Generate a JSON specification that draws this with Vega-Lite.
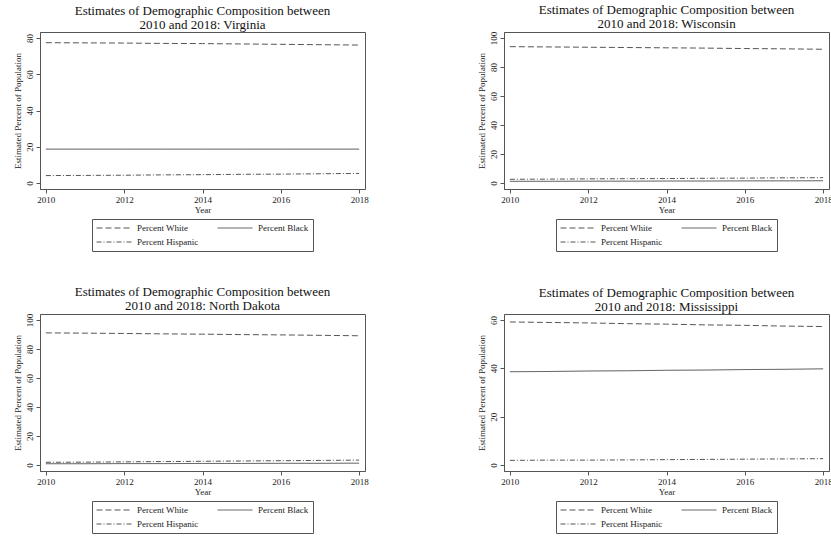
{
  "$schema": "https://vega.github.io/schema/vega-lite/v6.json",
  "padding": {"left": 12, "top": 3, "right": 0, "bottom": 3},
  "background": "white",
  "datasets": {
    "demo": [
      {"state": "Virginia", "year": 2010, "group": "Percent White", "pct": 77.4},
      {"state": "Virginia", "year": 2011, "group": "Percent White", "pct": 77.3},
      {"state": "Virginia", "year": 2012, "group": "Percent White", "pct": 77.2},
      {"state": "Virginia", "year": 2013, "group": "Percent White", "pct": 77.0},
      {"state": "Virginia", "year": 2014, "group": "Percent White", "pct": 76.9},
      {"state": "Virginia", "year": 2015, "group": "Percent White", "pct": 76.7},
      {"state": "Virginia", "year": 2016, "group": "Percent White", "pct": 76.5},
      {"state": "Virginia", "year": 2017, "group": "Percent White", "pct": 76.3},
      {"state": "Virginia", "year": 2018, "group": "Percent White", "pct": 76.1},
      {"state": "Virginia", "year": 2010, "group": "Percent Black", "pct": 18.7},
      {"state": "Virginia", "year": 2011, "group": "Percent Black", "pct": 18.7},
      {"state": "Virginia", "year": 2012, "group": "Percent Black", "pct": 18.7},
      {"state": "Virginia", "year": 2013, "group": "Percent Black", "pct": 18.7},
      {"state": "Virginia", "year": 2014, "group": "Percent Black", "pct": 18.7},
      {"state": "Virginia", "year": 2015, "group": "Percent Black", "pct": 18.7},
      {"state": "Virginia", "year": 2016, "group": "Percent Black", "pct": 18.7},
      {"state": "Virginia", "year": 2017, "group": "Percent Black", "pct": 18.7},
      {"state": "Virginia", "year": 2018, "group": "Percent Black", "pct": 18.7},
      {"state": "Virginia", "year": 2010, "group": "Percent Hispanic", "pct": 4.1},
      {"state": "Virginia", "year": 2011, "group": "Percent Hispanic", "pct": 4.2},
      {"state": "Virginia", "year": 2012, "group": "Percent Hispanic", "pct": 4.3},
      {"state": "Virginia", "year": 2013, "group": "Percent Hispanic", "pct": 4.5},
      {"state": "Virginia", "year": 2014, "group": "Percent Hispanic", "pct": 4.6},
      {"state": "Virginia", "year": 2015, "group": "Percent Hispanic", "pct": 4.8},
      {"state": "Virginia", "year": 2016, "group": "Percent Hispanic", "pct": 4.9},
      {"state": "Virginia", "year": 2017, "group": "Percent Hispanic", "pct": 5.1},
      {"state": "Virginia", "year": 2018, "group": "Percent Hispanic", "pct": 5.3},

      {"state": "Wisconsin", "year": 2010, "group": "Percent White", "pct": 94.0},
      {"state": "Wisconsin", "year": 2011, "group": "Percent White", "pct": 93.8},
      {"state": "Wisconsin", "year": 2012, "group": "Percent White", "pct": 93.6},
      {"state": "Wisconsin", "year": 2013, "group": "Percent White", "pct": 93.4},
      {"state": "Wisconsin", "year": 2014, "group": "Percent White", "pct": 93.2},
      {"state": "Wisconsin", "year": 2015, "group": "Percent White", "pct": 93.0},
      {"state": "Wisconsin", "year": 2016, "group": "Percent White", "pct": 92.7},
      {"state": "Wisconsin", "year": 2017, "group": "Percent White", "pct": 92.5},
      {"state": "Wisconsin", "year": 2018, "group": "Percent White", "pct": 92.2},
      {"state": "Wisconsin", "year": 2010, "group": "Percent Black", "pct": 1.2},
      {"state": "Wisconsin", "year": 2011, "group": "Percent Black", "pct": 1.2},
      {"state": "Wisconsin", "year": 2012, "group": "Percent Black", "pct": 1.3},
      {"state": "Wisconsin", "year": 2013, "group": "Percent Black", "pct": 1.3},
      {"state": "Wisconsin", "year": 2014, "group": "Percent Black", "pct": 1.4},
      {"state": "Wisconsin", "year": 2015, "group": "Percent Black", "pct": 1.4},
      {"state": "Wisconsin", "year": 2016, "group": "Percent Black", "pct": 1.5},
      {"state": "Wisconsin", "year": 2017, "group": "Percent Black", "pct": 1.5},
      {"state": "Wisconsin", "year": 2018, "group": "Percent Black", "pct": 1.6},
      {"state": "Wisconsin", "year": 2010, "group": "Percent Hispanic", "pct": 2.6},
      {"state": "Wisconsin", "year": 2011, "group": "Percent Hispanic", "pct": 2.7},
      {"state": "Wisconsin", "year": 2012, "group": "Percent Hispanic", "pct": 2.9},
      {"state": "Wisconsin", "year": 2013, "group": "Percent Hispanic", "pct": 3.0},
      {"state": "Wisconsin", "year": 2014, "group": "Percent Hispanic", "pct": 3.1},
      {"state": "Wisconsin", "year": 2015, "group": "Percent Hispanic", "pct": 3.3},
      {"state": "Wisconsin", "year": 2016, "group": "Percent Hispanic", "pct": 3.4},
      {"state": "Wisconsin", "year": 2017, "group": "Percent Hispanic", "pct": 3.6},
      {"state": "Wisconsin", "year": 2018, "group": "Percent Hispanic", "pct": 3.7},

      {"state": "North Dakota", "year": 2010, "group": "Percent White", "pct": 91.1},
      {"state": "North Dakota", "year": 2011, "group": "Percent White", "pct": 90.9},
      {"state": "North Dakota", "year": 2012, "group": "Percent White", "pct": 90.7},
      {"state": "North Dakota", "year": 2013, "group": "Percent White", "pct": 90.4},
      {"state": "North Dakota", "year": 2014, "group": "Percent White", "pct": 90.2},
      {"state": "North Dakota", "year": 2015, "group": "Percent White", "pct": 89.9},
      {"state": "North Dakota", "year": 2016, "group": "Percent White", "pct": 89.7},
      {"state": "North Dakota", "year": 2017, "group": "Percent White", "pct": 89.4},
      {"state": "North Dakota", "year": 2018, "group": "Percent White", "pct": 89.1},
      {"state": "North Dakota", "year": 2010, "group": "Percent Black", "pct": 0.9},
      {"state": "North Dakota", "year": 2011, "group": "Percent Black", "pct": 0.9},
      {"state": "North Dakota", "year": 2012, "group": "Percent Black", "pct": 1.0},
      {"state": "North Dakota", "year": 2013, "group": "Percent Black", "pct": 1.0},
      {"state": "North Dakota", "year": 2014, "group": "Percent Black", "pct": 1.1},
      {"state": "North Dakota", "year": 2015, "group": "Percent Black", "pct": 1.1},
      {"state": "North Dakota", "year": 2016, "group": "Percent Black", "pct": 1.2},
      {"state": "North Dakota", "year": 2017, "group": "Percent Black", "pct": 1.2},
      {"state": "North Dakota", "year": 2018, "group": "Percent Black", "pct": 1.3},
      {"state": "North Dakota", "year": 2010, "group": "Percent Hispanic", "pct": 1.9},
      {"state": "North Dakota", "year": 2011, "group": "Percent Hispanic", "pct": 2.0},
      {"state": "North Dakota", "year": 2012, "group": "Percent Hispanic", "pct": 2.2},
      {"state": "North Dakota", "year": 2013, "group": "Percent Hispanic", "pct": 2.4},
      {"state": "North Dakota", "year": 2014, "group": "Percent Hispanic", "pct": 2.6},
      {"state": "North Dakota", "year": 2015, "group": "Percent Hispanic", "pct": 2.8},
      {"state": "North Dakota", "year": 2016, "group": "Percent Hispanic", "pct": 3.0},
      {"state": "North Dakota", "year": 2017, "group": "Percent Hispanic", "pct": 3.2},
      {"state": "North Dakota", "year": 2018, "group": "Percent Hispanic", "pct": 3.4},

      {"state": "Mississippi", "year": 2010, "group": "Percent White", "pct": 59.2},
      {"state": "Mississippi", "year": 2011, "group": "Percent White", "pct": 59.0},
      {"state": "Mississippi", "year": 2012, "group": "Percent White", "pct": 58.8},
      {"state": "Mississippi", "year": 2013, "group": "Percent White", "pct": 58.5},
      {"state": "Mississippi", "year": 2014, "group": "Percent White", "pct": 58.3},
      {"state": "Mississippi", "year": 2015, "group": "Percent White", "pct": 58.0},
      {"state": "Mississippi", "year": 2016, "group": "Percent White", "pct": 57.8},
      {"state": "Mississippi", "year": 2017, "group": "Percent White", "pct": 57.5},
      {"state": "Mississippi", "year": 2018, "group": "Percent White", "pct": 57.3},
      {"state": "Mississippi", "year": 2010, "group": "Percent Black", "pct": 38.6},
      {"state": "Mississippi", "year": 2011, "group": "Percent Black", "pct": 38.7},
      {"state": "Mississippi", "year": 2012, "group": "Percent Black", "pct": 38.9},
      {"state": "Mississippi", "year": 2013, "group": "Percent Black", "pct": 39.0},
      {"state": "Mississippi", "year": 2014, "group": "Percent Black", "pct": 39.2},
      {"state": "Mississippi", "year": 2015, "group": "Percent Black", "pct": 39.3},
      {"state": "Mississippi", "year": 2016, "group": "Percent Black", "pct": 39.5},
      {"state": "Mississippi", "year": 2017, "group": "Percent Black", "pct": 39.6},
      {"state": "Mississippi", "year": 2018, "group": "Percent Black", "pct": 39.8},
      {"state": "Mississippi", "year": 2010, "group": "Percent Hispanic", "pct": 1.9},
      {"state": "Mississippi", "year": 2011, "group": "Percent Hispanic", "pct": 2.0},
      {"state": "Mississippi", "year": 2012, "group": "Percent Hispanic", "pct": 2.0},
      {"state": "Mississippi", "year": 2013, "group": "Percent Hispanic", "pct": 2.1},
      {"state": "Mississippi", "year": 2014, "group": "Percent Hispanic", "pct": 2.2},
      {"state": "Mississippi", "year": 2015, "group": "Percent Hispanic", "pct": 2.3},
      {"state": "Mississippi", "year": 2016, "group": "Percent Hispanic", "pct": 2.4},
      {"state": "Mississippi", "year": 2017, "group": "Percent Hispanic", "pct": 2.5},
      {"state": "Mississippi", "year": 2018, "group": "Percent Hispanic", "pct": 2.6}
    ]
  },
  "data": {"name": "demo"},
  "columns": 2,
  "spacing": {"row": 33, "column": 107},
  "concat": [
    {
      "title": {"text": ["Estimates of Demographic Composition between", "2010 and 2018: Virginia"]},
      "width": 325, "height": 157,
      "transform": [{"filter": "datum.state === 'Virginia'"}],
      "mark": {"type": "line", "stroke": "#555", "strokeWidth": 1},
      "encoding": {
        "x": {"field": "year", "type": "quantitative", "scale": {"domain": [2009.85, 2018.15], "nice": false, "zero": false}, "axis": {"values": [2010, 2012, 2014, 2016, 2018], "format": "d", "title": "Year"}},
        "y": {"field": "pct", "type": "quantitative", "scale": {"domain": [-3.3, 83.3], "nice": false, "zero": false}, "axis": {"values": [0, 20, 40, 60, 80], "title": "Estimated Percent of Population"}},
        "strokeDash": {"field": "group", "type": "nominal", "scale": {"domain": ["Percent White", "Percent Black", "Percent Hispanic"], "range": [[6, 3], [1, 0], [5, 2, 1, 2]]}, "legend": {"title": null}}
      }
    },
    {
      "title": {"text": ["Estimates of Demographic Composition between", "2010 and 2018: Wisconsin"]},
      "width": 325, "height": 157,
      "transform": [{"filter": "datum.state === 'Wisconsin'"}],
      "mark": {"type": "line", "stroke": "#555", "strokeWidth": 1},
      "encoding": {
        "x": {"field": "year", "type": "quantitative", "scale": {"domain": [2009.85, 2018.15], "nice": false, "zero": false}, "axis": {"values": [2010, 2012, 2014, 2016, 2018], "format": "d", "title": "Year"}},
        "y": {"field": "pct", "type": "quantitative", "scale": {"domain": [-4.1, 104.1], "nice": false, "zero": false}, "axis": {"values": [0, 20, 40, 60, 80, 100], "title": "Estimated Percent of Population"}},
        "strokeDash": {"field": "group", "type": "nominal", "scale": {"domain": ["Percent White", "Percent Black", "Percent Hispanic"], "range": [[6, 3], [1, 0], [5, 2, 1, 2]]}, "legend": {"title": null}}
      }
    },
    {
      "title": {"text": ["Estimates of Demographic Composition between", "2010 and 2018: North Dakota"]},
      "width": 325, "height": 157,
      "transform": [{"filter": "datum.state === 'North Dakota'"}],
      "mark": {"type": "line", "stroke": "#555", "strokeWidth": 1},
      "encoding": {
        "x": {"field": "year", "type": "quantitative", "scale": {"domain": [2009.85, 2018.15], "nice": false, "zero": false}, "axis": {"values": [2010, 2012, 2014, 2016, 2018], "format": "d", "title": "Year"}},
        "y": {"field": "pct", "type": "quantitative", "scale": {"domain": [-4.1, 104.1], "nice": false, "zero": false}, "axis": {"values": [0, 20, 40, 60, 80, 100], "title": "Estimated Percent of Population"}},
        "strokeDash": {"field": "group", "type": "nominal", "scale": {"domain": ["Percent White", "Percent Black", "Percent Hispanic"], "range": [[6, 3], [1, 0], [5, 2, 1, 2]]}, "legend": {"title": null}}
      }
    },
    {
      "title": {"text": ["Estimates of Demographic Composition between", "2010 and 2018: Mississippi"]},
      "width": 325, "height": 157,
      "transform": [{"filter": "datum.state === 'Mississippi'"}],
      "mark": {"type": "line", "stroke": "#555", "strokeWidth": 1},
      "encoding": {
        "x": {"field": "year", "type": "quantitative", "scale": {"domain": [2009.85, 2018.15], "nice": false, "zero": false}, "axis": {"values": [2010, 2012, 2014, 2016, 2018], "format": "d", "title": "Year"}},
        "y": {"field": "pct", "type": "quantitative", "scale": {"domain": [-2.5, 62.5], "nice": false, "zero": false}, "axis": {"values": [0, 20, 40, 60], "title": "Estimated Percent of Population"}},
        "strokeDash": {"field": "group", "type": "nominal", "scale": {"domain": ["Percent White", "Percent Black", "Percent Hispanic"], "range": [[6, 3], [1, 0], [5, 2, 1, 2]]}, "legend": {"title": null}}
      }
    }
  ],
  "resolve": {"scale": {"y": "independent", "x": "independent", "strokeDash": "independent"}, "legend": {"strokeDash": "independent"}},
  "config": {
    "font": "Liberation Serif",
    "view": {"stroke": "#555", "strokeWidth": 1},
    "axis": {
      "grid": false,
      "domainColor": "#555",
      "tickColor": "#555",
      "tickSize": 4,
      "labelFont": "Liberation Serif",
      "labelFontSize": 9,
      "labelColor": "#222",
      "labelPadding": 2,
      "titleFont": "Liberation Serif",
      "titleFontSize": 9,
      "titleFontWeight": "normal",
      "titleColor": "#222",
      "titlePadding": 1
    },
    "axisY": {"labelAngle": -90, "titlePadding": 3},
    "axisX": {"labelFlush": false},
    "legend": {
      "orient": "bottom",
      "direction": "horizontal",
      "columns": 2,
      "symbolType": "stroke",
      "symbolSize": 1225,
      "symbolStrokeWidth": 1,
      "symbolStrokeColor": "#555",
      "labelFont": "Liberation Serif",
      "labelFontSize": 9,
      "labelColor": "#222",
      "labelOffset": 5,
      "strokeColor": "#555",
      "padding": 4,
      "clipHeight": 10,
      "rowPadding": 4,
      "columnPadding": 18,
      "offset": 5,
      "layout": {"anchor": "middle", "bottom": {"anchor": "middle"}}
    },
    "title": {
      "font": "Liberation Serif",
      "fontSize": 13,
      "fontWeight": "normal",
      "color": "#111",
      "anchor": "middle",
      "lineHeight": 13.5,
      "offset": 0.5
    }
  }
}
